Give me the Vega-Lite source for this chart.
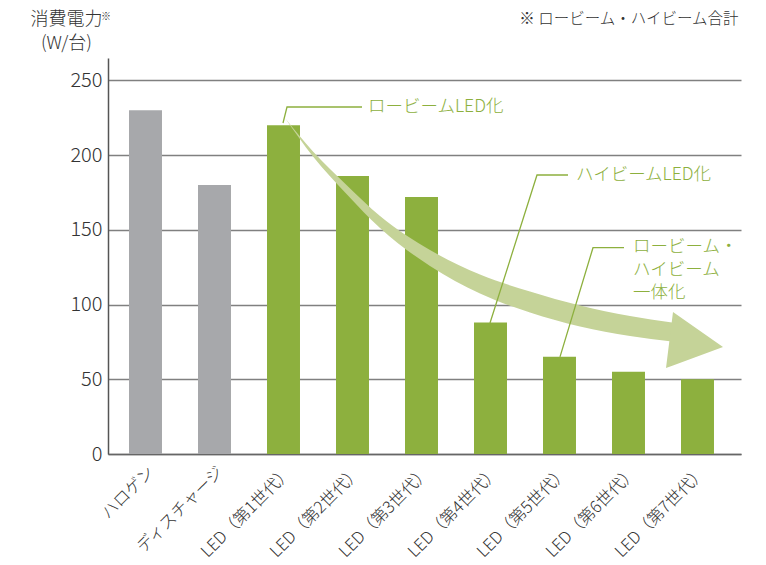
{
  "$schema": "https://vega.github.io/schema/vega-lite/v6.json",
  "autosize": "none",
  "padding": {"left": 108, "top": 58, "right": 25, "bottom": 111},
  "width": 633,
  "height": 396,
  "config": {
    "font": "Noto Sans CJK JP",
    "view": {"stroke": null},
    "axis": {"titleFontWeight": "normal"}
  },
  "datasets": {
    "bars": [
      {"name": "ハロゲン", "W": 230, "kind": "従来"},
      {"name": "ディスチャージ", "W": 180, "kind": "従来"},
      {"name": "LED（第1世代）", "W": 220, "kind": "LED"},
      {"name": "LED（第2世代）", "W": 186, "kind": "LED"},
      {"name": "LED（第3世代）", "W": 172, "kind": "LED"},
      {"name": "LED（第4世代）", "W": 88, "kind": "LED"},
      {"name": "LED（第5世代）", "W": 65, "kind": "LED"},
      {"name": "LED（第6世代）", "W": 55, "kind": "LED"},
      {"name": "LED（第7世代）", "W": 50, "kind": "LED"}
    ],
    "shaft": [
      {"i": 2.0217, "hi": 224.85, "lo": 224.85},
      {"i": 2.4275, "hi": 202.43, "lo": 199.09},
      {"i": 2.9203, "hi": 179.68, "lo": 173.66},
      {"i": 3.3986, "hi": 159.27, "lo": 151.24},
      {"i": 4.1232, "hi": 136.52, "lo": 125.81},
      {"i": 4.8478, "hi": 120.12, "lo": 107.41},
      {"i": 5.5725, "hi": 108.75, "lo": 94.69},
      {"i": 6.2971, "hi": 99.38, "lo": 85.32},
      {"i": 7.0217, "hi": 92.35, "lo": 78.97},
      {"i": 7.6304, "hi": 88.0, "lo": 75.29}
    ],
    "head": [
      {"i": 7.5435, "hi": 57.55, "lo": 57.55},
      {"i": 7.6449, "hi": 95.03, "lo": 59.29},
      {"i": 8.3696, "hi": 71.61, "lo": 71.61}
    ],
    "leaders": [
      {"g": 1, "o": 1, "i": 1.9928, "W": 221.5},
      {"g": 1, "o": 2, "i": 2.0507, "W": 232.22},
      {"g": 1, "o": 3, "i": 3.1377, "W": 232.22},
      {"g": 2, "o": 1, "i": 4.9928, "W": 87.67},
      {"g": 2, "o": 2, "i": 5.6739, "W": 186.71},
      {"g": 2, "o": 3, "i": 6.1232, "W": 186.71},
      {"g": 3, "o": 1, "i": 6.0072, "W": 65.0},
      {"g": 3, "o": 2, "i": 6.4855, "W": 138.06},
      {"g": 3, "o": 3, "i": 6.9348, "W": 138.06}
    ],
    "labels": [
      {"i": 3.2246, "W": 232.22, "t": "ロービームLED化"},
      {"i": 6.2391, "W": 186.71, "t": "ハイビームLED化"},
      {"i": 7.0652, "W": 138.53, "t": "ロービーム・\nハイビーム\n一体化"}
    ]
  },
  "resolve": {"scale": {"x": "independent", "y": "independent"}},
  "layer": [
    {
      "data": {"name": "bars"},
      "mark": {"type": "bar"},
      "encoding": {
        "x": {
          "field": "name", "type": "nominal", "sort": null,
          "scale": {"paddingInner": 0.522, "paddingOuter": 0.348, "align": 0.4375},
          "axis": {
            "title": null, "labelAngle": -45, "labelAlign": "right", "labelBaseline": "middle",
            "labelFontSize": 16.5, "labelFontWeight": 300, "labelColor": "#333333", "labelPadding": 15, "labelOffset": 6,
            "ticks": false, "domainColor": "#666666", "domainWidth": 1.5
          }
        },
        "y": {
          "field": "W", "type": "quantitative",
          "scale": {"domain": [0, 265], "nice": false},
          "axis": {
            "values": [0, 50, 100, 150, 200, 250],
            "title": ["消費電力", "(W/台)"],
            "titleAngle": 0, "titleAlign": "center", "titleBaseline": "top",
            "titleX": -42, "titleY": -48, "titleLineHeight": 24,
            "titleFontSize": 18, "titleColor": "#333333", "titleFontWeight": 300,
            "labelFontSize": 20, "labelFontWeight": 300, "labelColor": "#333333", "labelPadding": 6,
            "ticks": false, "domainColor": "#555555", "domainWidth": 1.5,
            "grid": true, "gridColor": "#808080", "gridWidth": 1.5
          }
        },
        "color": {
          "field": "kind", "type": "nominal",
          "scale": {"domain": ["従来", "LED"], "range": ["#A7A8AB", "#8DB03E"]},
          "legend": null
        }
      }
    },
    {
      "data": {"name": "shaft"},
      "mark": {"type": "area", "interpolate": "monotone", "color": "#C5D398"},
      "encoding": {
        "x": {
          "field": "i", "type": "quantitative",
          "scale": {"domain": [-0.5435, 8.6304], "nice": false, "zero": false},
          "axis": {
            "orient": "top", "labels": false, "ticks": false, "domain": false, "grid": false,
            "title": "※ ロービーム・ハイビーム合計", "titleX": 630, "titleY": -40,
            "titleAlign": "right", "titleBaseline": "middle", "titleAngle": 0,
            "titleFontSize": 15.5, "titleColor": "#333333", "titleFontWeight": 300
          }
        },
        "y": {"field": "hi", "type": "quantitative", "stack": null, "scale": {"domain": [0, 265], "nice": false}, "axis": null},
        "y2": {"field": "lo"}
      }
    },
    {
      "data": {"name": "head"},
      "mark": {"type": "area", "color": "#C5D398"},
      "encoding": {
        "x": {
          "field": "i", "type": "quantitative",
          "scale": {"domain": [-0.5435, 8.6304], "nice": false, "zero": false},
          "axis": {
            "orient": "top", "labels": false, "ticks": false, "domain": false, "grid": false,
            "title": "※", "titleX": -2.5, "titleY": -42,
            "titleAlign": "center", "titleBaseline": "middle", "titleAngle": 0,
            "titleFontSize": 10, "titleColor": "#333333", "titleFontWeight": 300
          }
        },
        "y": {"field": "hi", "type": "quantitative", "stack": null, "scale": {"domain": [0, 265], "nice": false}, "axis": null},
        "y2": {"field": "lo"}
      }
    },
    {
      "data": {"name": "leaders"},
      "mark": {"type": "line", "color": "#8DB03E", "strokeWidth": 1.3},
      "encoding": {
        "x": {"field": "i", "type": "quantitative", "scale": {"domain": [-0.5435, 8.6304], "nice": false, "zero": false}, "axis": null},
        "y": {"field": "W", "type": "quantitative", "scale": {"domain": [0, 265], "nice": false}, "axis": null},
        "detail": {"field": "g", "type": "nominal"},
        "order": {"field": "o", "type": "quantitative"}
      }
    },
    {
      "data": {"name": "labels"},
      "mark": {"type": "text", "align": "left", "baseline": "middle", "fontSize": 17.5, "fontWeight": 300, "color": "#8DB03E", "lineBreak": "\n", "lineHeight": 23},
      "encoding": {
        "x": {"field": "i", "type": "quantitative", "scale": {"domain": [-0.5435, 8.6304], "nice": false, "zero": false}, "axis": null},
        "y": {"field": "W", "type": "quantitative", "scale": {"domain": [0, 265], "nice": false}, "axis": null},
        "text": {"field": "t", "type": "nominal"}
      }
    }
  ]
}
